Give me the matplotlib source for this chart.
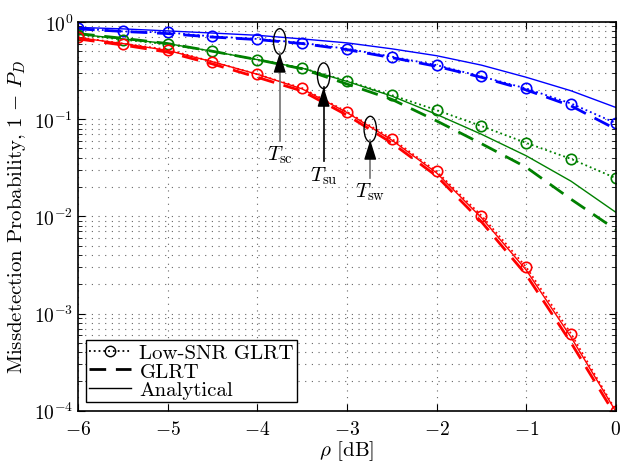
import numpy as np
import matplotlib
matplotlib.use("Agg")
import matplotlib.pyplot as plt
from matplotlib.patches import Ellipse
from matplotlib.lines import Line2D

plt.rcParams['font.family'] = 'cmr10'
plt.rcParams['mathtext.fontset'] = 'cm'
plt.rcParams['axes.formatter.use_mathtext'] = True
plt.rcParams['axes.unicode_minus'] = False
plt.rcParams['font.size'] = 15

rho = [-6, -5.5, -5, -4.5, -4, -3.5, -3, -2.5, -2, -1.5, -1, -0.5, 0]

# T_sc (blue)
sc_low = [0.86, 0.80, 0.78, 0.71, 0.67, 0.61, 0.53, 0.44, 0.36, 0.275, 0.207, 0.145, 0.091]
sc_glrt = [0.85, 0.80, 0.76, 0.70, 0.66, 0.60, 0.52, 0.43, 0.35, 0.27, 0.20, 0.137, 0.079]
sc_ana = [0.88, 0.85, 0.81, 0.77, 0.73, 0.67, 0.61, 0.53, 0.45, 0.36, 0.27, 0.196, 0.132]

# T_su (green)
su_low = [0.74, 0.66, 0.59, 0.50, 0.41, 0.336, 0.248, 0.177, 0.124, 0.085, 0.057, 0.039, 0.0247]
su_glrt = [0.76, 0.68, 0.60, 0.50, 0.41, 0.33, 0.23, 0.16, 0.096, 0.056, 0.032, 0.015, 0.0073]
su_ana = [0.75, 0.67, 0.60, 0.50, 0.41, 0.335, 0.245, 0.173, 0.112, 0.070, 0.042, 0.023, 0.011]

# T_sw (red)
sw_low = [0.70, 0.60, 0.52, 0.39, 0.29, 0.209, 0.119, 0.063, 0.029, 0.0102, 0.0030, 0.00062, 0.0001]
sw_glrt = [0.67, 0.58, 0.49, 0.37, 0.27, 0.195, 0.11, 0.057, 0.026, 0.0088, 0.0025, 0.00050, 0.000088]
sw_ana = [0.69, 0.60, 0.51, 0.39, 0.29, 0.205, 0.117, 0.061, 0.028, 0.0097, 0.0028, 0.00057, 0.000098]

fig = plt.figure(figsize=(6.24, 4.64), dpi=100)
ax = fig.add_axes([0.125, 0.1127, 0.862, 0.8377])

sets = [(sc_low, sc_glrt, sc_ana, (0, 0, 1)),
        (su_low, su_glrt, su_ana, (0, 0.5, 0)),
        (sw_low, sw_glrt, sw_ana, (1, 0, 0))]
for low, glrt, ana, c in sets:
    ax.plot(rho, low, ':', color=c, lw=1.3, marker='o', ms=7.5, mfc='none', mew=1.2)
    ax.plot(rho, glrt, color=c, lw=2, dashes=(6, 3.5))
    ax.plot(rho, ana, '-', color=c, lw=1)

ax.set_yscale('log')
ax.set_xlim(-6, 0)
ax.set_ylim(1e-4, 1)
ax.set_xticks([-6, -5, -4, -3, -2, -1, 0])
ax.set_xticklabels([r'$-6$', r'$-5$', r'$-4$', r'$-3$', r'$-2$', r'$-1$', r'$0$'])
ax.tick_params(which='both', direction='in', top=True, right=True, labelsize=14)
ax.tick_params(which='major', length=5)
ax.tick_params(which='minor', length=3)
ax.tick_params(axis='x', pad=7)
grid_style = dict(ls=(0, (1, 5)), color='0.4', lw=0.8)
ax.grid(True, which='major', axis='both', **grid_style)
ax.grid(True, which='minor', axis='y', **grid_style)
ax.set_xlabel(r'$\rho$ [dB]', labelpad=0)
ax.set_ylabel(r'Missdetection Probability, $1\,-\,P_D$', labelpad=4)
for s in ax.spines.values():
    s.set_linewidth(1.2)

# ellipses with arrows marking each detector's curves
to_axes = ax.transData + ax.transAxes.inverted()
marks = [(-3.75, 0.63, 0.48, 0.060, r'$T_{\rm sc}$', '0.45'),
         (-3.26, 0.28, 0.214, 0.037, r'$T_{\rm su}$', 'k'),
         (-2.74, 0.079, 0.061, 0.025, r'$T_{\rm sw}$', '0.45')]
for x, yc, ytip, ytail, lab, lc in marks:
    cx, cy = to_axes.transform((x, yc))
    ax.add_patch(Ellipse((cx, cy), 0.023, 0.066, transform=ax.transAxes,
                         fill=False, ec='k', lw=1, zorder=5))
    ax.plot([x, x], [ytail, ytip], color=lc, lw=1.2, zorder=5)
    ax.annotate('', xy=(x, ytip), xytext=(x, ytip * 0.75),
                arrowprops=dict(arrowstyle='-|>,head_length=0.8,head_width=0.25',
                                color='k', lw=1, shrinkA=0, shrinkB=0), zorder=6)
    ax.text(x, ytail * 0.93, lab, ha='center', va='top', fontsize=15)

handles = [Line2D([], [], color='k', ls=':', lw=1.3, marker='o', ms=7.5, mfc='none'),
           Line2D([], [], color='k', lw=2, dashes=(6, 3.5)),
           Line2D([], [], color='k', lw=1)]
leg = ax.legend(handles, ['Low-SNR GLRT', 'GLRT', 'Analytical'], loc='lower left',
                fancybox=False, framealpha=1, edgecolor='k', labelspacing=0,
                borderpad=0.15, handlelength=2.0, handletextpad=0.4, borderaxespad=0.4)
leg.get_frame().set_linewidth(1)

fig.savefig('out.png', dpi=100)
